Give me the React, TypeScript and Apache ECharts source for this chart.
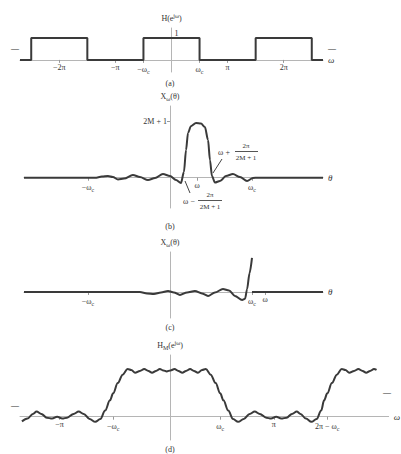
import React, { useEffect, useRef } from 'react';
import * as echarts from 'echarts';

// ---- Panel (a): ideal lowpass, periodic ----
const pulseEdges = [-2.5, -1.5, -0.5, 0.5, 1.5, 2.5];
const aTicks = [-2, -1, -0.5, 0.5, 1, 2];
const aTickLabels = ['−2π', '−π', '−ω{s|c}', 'ω{s|c}', 'π', '2π'];

// ---- Panel (b): kernel centred at ω (θ in units of π, value in units of 2M+1) ----
const bTheta = [-0.89, -0.457, -0.415, -0.378, -0.348, -0.317, -0.28, -0.226, -0.183, -0.134, -0.091, -0.043, 0, 0.037, 0.067, 0.085, 0.098, 0.11, 0.128, 0.159, 0.189, 0.213, 0.232, 0.244, 0.256, 0.274, 0.305, 0.341, 0.384, 0.427, 0.47, 0.506, 0.537, 0.933];
const bValue = [0, 0, 0.02, 0.03, 0.012, -0.03, -0.015, 0.048, 0.012, -0.04, -0.005, 0.065, 0.03, -0.04, -0.093, 0.1, 0.49, 0.79, 0.91, 0.965, 0.955, 0.894, 0.665, 0.31, 0.03, -0.085, -0.058, 0.03, 0.065, 0.012, -0.058, -0.005, 0, 0];
const bTicks = [-0.5, 0.165, 0.5];
const bTickLabels = ['−ω{s|c}', 'ω', 'ω{s|c}'];

// ---- Panel (c): product truncated at ω_c ----
const cTheta = [-0.89, -0.183, -0.14, -0.098, -0.055, -0.012, 0.024, 0.061, 0.104, 0.152, 0.195, 0.232, 0.274, 0.323, 0.36, 0.396, 0.44, 0.458, 0.47, 0.485, 0.5];
const cValue = [0, 0, -0.026, -0.035, -0.009, 0.018, -0.009, -0.053, -0.009, 0.018, -0.026, -0.07, -0.009, 0.053, 0.026, -0.07, -0.14, -0.12, 0.05, 0.33, 0.6];
const cTailTheta = [0.5, 0.933];
const cTailValue = [0, 0];
const cTicks = [-0.5, 0.5, 0.58];
const cTickLabels = ['−ω{s|c}', 'ω{s|c}', 'ω'];

// ---- Panel (d): resulting response with Gibbs ripples ----
const dOmega = [-1.352, -1.3, -1.25, -1.215, -1.17, -1.12, -1.07, -1.023, -0.975, -0.93, -0.87, -0.822, -0.775, -0.72, -0.667, -0.62, -0.575, -0.53, -0.5, -0.457, -0.411, -0.365, -0.33, -0.295, -0.25, -0.21, -0.17, -0.137, -0.1, -0.064, -0.03, 0, 0.035, 0.073, 0.11, 0.146, 0.18, 0.219, 0.255, 0.292, 0.33, 0.365, 0.411, 0.457, 0.5, 0.53, 0.575, 0.62, 0.667, 0.72, 0.775, 0.822, 0.87, 0.93, 0.975, 1.023, 1.07, 1.12, 1.17, 1.215, 1.25, 1.3, 1.352, 1.4, 1.443, 1.47, 1.5, 1.543, 1.589, 1.635, 1.67, 1.705, 1.75, 1.79, 1.83, 1.863, 1.9, 1.936, 1.96];
const dValue = [-0.1, -0.04, 0.06, 0.11, 0.06, -0.02, -0.04, 0.0, -0.04, -0.02, 0.06, 0.11, 0.06, -0.05, -0.11, -0.05, 0.13, 0.35, 0.5, 0.72, 0.9, 1.02, 1.0, 0.94, 0.98, 1.02, 0.98, 0.94, 0.98, 1.02, 0.99, 0.97, 0.99, 1.02, 0.98, 0.94, 0.98, 1.02, 0.98, 0.94, 1.0, 1.02, 0.9, 0.72, 0.5, 0.35, 0.13, -0.05, -0.11, -0.05, 0.06, 0.11, 0.06, -0.02, -0.04, 0.0, -0.04, -0.02, 0.06, 0.11, 0.06, -0.04, -0.11, -0.05, 0.13, 0.35, 0.5, 0.72, 0.9, 1.02, 1.0, 0.94, 0.98, 1.02, 0.98, 0.94, 0.98, 1.02, 1.0];
const dTicks = [-1, -0.5, 0.5, 1, 1.5];
const dTickLabels = ['−π', '−ω{s|c}', 'ω{s|c}', 'π', '2π − ω{s|c}'];

const FONT = 'Liberation Serif';
const TXT = '#333';
const AXIS = '#b5b5b5';
const LINE = '#3a3a3a';

const rich = {
  s: { fontSize: 6, fontFamily: FONT, color: TXT, padding: [5, 0, 0, 0] },
  p: { fontSize: 6, fontFamily: FONT, color: TXT, padding: [0, 0, 5, 0] },
};

type Grid = { left: number; width: number; top: number; height: number };
const grids: Grid[] = [
  { left: 20, width: 303, top: 28, height: 44 },
  { left: 24, width: 299, top: 106, height: 102 },
  { left: 24, width: 299, top: 252, height: 66 },
  { left: 20, width: 377, top: 355, height: 85 },
];
const xRanges = [[-2.7, 2.7], [-0.89, 0.933], [-0.89, 0.933], [-1.37, 2.073]];
const yRanges = [[-0.55, 1.45], [-0.534, 1.265], [-0.459, 0.705], [-0.499, 1.321]];

function pairs(xs: number[], ys: number[]) {
  return xs.map((x, i) => [x, ys[i]]);
}

function xAx(g: number, ticks: number[], labels: string[], name: string) {
  const [min, max] = xRanges[g];
  const [ymin, ymax] = yRanges[g];
  const offset = -grids[g].height * (0 - ymin) / (ymax - ymin);
  return {
    type: 'value',
    gridIndex: g,
    min,
    max,
    position: 'bottom',
    offset,
    splitLine: { show: false },
    axisLine: { show: true, onZero: false, lineStyle: { color: AXIS, width: 1 } },
    axisTick: { show: true, customValues: ticks, length: 3, lineStyle: { color: '#999' } },
    axisLabel: {
      customValues: ticks,
      fontFamily: FONT,
      fontSize: 8,
      color: TXT,
      margin: 4,
      rich,
      formatter: (v: number) => {
        const i = ticks.findIndex((t) => Math.abs(t - v) < 1e-6);
        return i >= 0 ? labels[i] : '';
      },
    },
    name,
    nameLocation: 'end',
    nameGap: 5,
    nameTextStyle: { fontFamily: FONT, fontSize: 9, color: TXT, fontStyle: 'italic' },
  };
}

function yAx(g: number, name: string, labelVals: number[], labelText: string, inside: boolean) {
  const [min, max] = yRanges[g];
  const [xmin, xmax] = xRanges[g];
  const offset = -grids[g].width * (0 - xmin) / (xmax - xmin);
  return {
    type: 'value',
    gridIndex: g,
    min,
    max,
    position: 'left',
    offset,
    splitLine: { show: false },
    axisLine: { show: true, onZero: false, lineStyle: { color: AXIS, width: 1 } },
    axisTick: { show: labelVals.length > 0, customValues: labelVals, length: 3, inside: inside, lineStyle: { color: '#999' } },
    axisLabel: {
      show: labelVals.length > 0,
      customValues: labelVals,
      inside,
      fontFamily: FONT,
      fontSize: 8,
      color: TXT,
      margin: 3,
      verticalAlign: inside ? 'bottom' : 'middle',
      formatter: () => labelText,
    },
    name,
    nameLocation: 'end',
    nameGap: 4,
    nameTextStyle: { fontFamily: FONT, fontSize: 8, color: TXT, align: 'center', rich },
  };
}

function lineSeries(idx: number, data: number[][], smooth: number | boolean) {
  return {
    type: 'line',
    xAxisIndex: idx,
    yAxisIndex: idx,
    data,
    showSymbol: false,
    smooth,
    smoothMonotone: 'x',
    lineStyle: { color: LINE, width: 2 },
    silent: true,
  };
}

function txt(x: number, y: number, text: string, size = 8, align = 'center') {
  return {
    type: 'text',
    x,
    y,
    style: { text, fontFamily: FONT, fontSize: size, fill: TXT, textAlign: align, textVerticalAlign: 'middle' },
  };
}

function seg(x1: number, y1: number, x2: number, y2: number, color = '#444') {
  return { type: 'line', shape: { x1, y1, x2, y2 }, style: { stroke: color, lineWidth: 1 } };
}

export default function App() {
  const ref = useRef<HTMLDivElement>(null);
  useEffect(() => {
    if (!ref.current) return;
    const chart = echarts.init(ref.current, undefined, { renderer: 'svg' });

    const aData: number[][] = [[xRanges[0][0], 0]];
    for (let i = 0; i < pulseEdges.length; i += 2) {
      aData.push([pulseEdges[i], 0], [pulseEdges[i], 1], [pulseEdges[i + 1], 1], [pulseEdges[i + 1], 0]);
    }
    aData.push([xRanges[0][1], 0]);

    const option = {
      animation: false,
      backgroundColor: '#fff',
      grid: grids,
      xAxis: [
        xAx(0, aTicks, aTickLabels, 'ω'),
        xAx(1, bTicks, bTickLabels, 'θ'),
        xAx(2, cTicks, cTickLabels, 'θ'),
        xAx(3, dTicks, dTickLabels, 'ω'),
      ],
      yAxis: [
        yAx(0, 'H(e{p|jω})', [1], '1', true),
        yAx(1, 'X{s|ω}(θ)', [1], '2M + 1', false),
        yAx(2, 'X{s|ω}(θ)', [], '', false),
        yAx(3, 'H{s|M}(e{p|jω})', [], '', false),
      ],
      series: [
        lineSeries(0, aData, false),
        lineSeries(1, pairs(bTheta, bValue), 0.3),
        lineSeries(2, pairs(cTheta, cValue), 0.3),
        lineSeries(2, pairs(cTailTheta, cTailValue), false),
        lineSeries(3, pairs(dOmega, dValue), 0.35),
      ],
      graphic: [
        txt(170, 83, '(a)'),
        txt(170, 226, '(b)'),
        txt(170, 327, '(c)'),
        txt(170, 449, '(d)'),
        txt(15, 48, '—', 8),
        txt(332, 48, '—', 8),
        txt(15, 405, '—', 8),
        txt(387, 392, '—', 8),
        // upper annotation in (b)
        seg(213, 173, 222, 159),
        txt(224, 152, 'ω +', 8),
        txt(246, 146, '2π', 7),
        seg(235, 151.5, 258, 151.5, '#555'),
        txt(246, 157.5, '2M + 1', 7),
        // lower annotation in (b)
        seg(185, 181, 190, 193),
        txt(189, 201, 'ω −', 8),
        txt(210, 195, '2π', 7),
        seg(198, 200.5, 222, 200.5, '#555'),
        txt(210, 207, '2M + 1', 7),
      ],
    };
    chart.setOption(option as any);
    return () => chart.dispose();
  }, []);
  return <div ref={ref} style={{ position: 'absolute', left: 0, top: 0, width: 401, height: 454 }} />;
}
